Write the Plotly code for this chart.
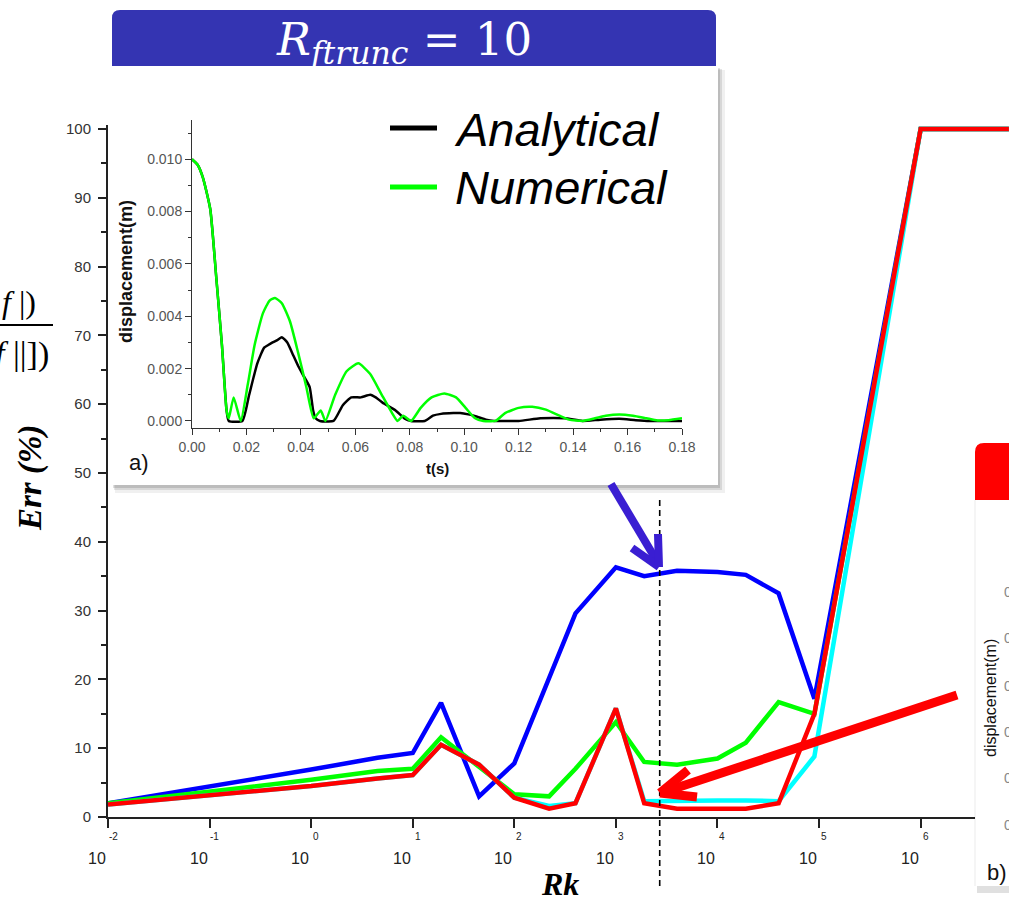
import plotly.graph_objects as go

# ---------------- data ----------------
# main chart: Err (%) versus Rk (log axis)
RK = [0.01, 0.1, 1, 4.5, 10, 19, 45, 100, 220, 400, 1000, 1900, 4000,
      10000, 19000, 40000, 90000, 1000000, 7400000]
ERR_BLUE = [2.0, 4.4, 6.9, 8.6, 9.3, 16.6, 3.0, 7.8, 20.4, 29.6, 36.3, 35.0, 35.8,
            35.6, 35.2, 32.5, 17.2, 100, 100]
ERR_GREEN = [2.0, 3.7, 5.4, 6.7, 7.0, 11.6, 7.3, 3.3, 3.0, 7.0, 13.8, 8.0, 7.6,
             8.5, 10.8, 16.7, 15.0, 100, 100]
ERR_CYAN = [1.8, 3.2, 4.5, 5.6, 6.1, 10.5, 7.6, 2.8, 1.6, 2.0, 15.8, 2.3, 2.4,
            2.4, 2.4, 2.3, 8.8, 100, 100]
ERR_RED = [1.8, 3.2, 4.5, 5.6, 6.1, 10.5, 7.6, 2.8, 1.2, 2.0, 15.8, 2.0, 1.2,
           1.2, 1.2, 2.0, 15.0, 100, 100]
X_TICK_EXP = ["-2", "-1", "0", "1", "2", "3", "4", "5", "6"]
Y_TICKS = [0, 10, 20, 30, 40, 50, 60, 70, 80, 90, 100]
RK_DASH = 2700

# inset a): displacement versus time
T_ANA = [0, 0.002, 0.004, 0.0067, 0.0089, 0.011, 0.0127, 0.0135, 0.0185, 0.021, 0.024,
         0.0265, 0.028, 0.0296, 0.0315, 0.033, 0.035, 0.0368, 0.039, 0.0411, 0.0432,
         0.0445, 0.0454, 0.047, 0.052, 0.0554, 0.0585, 0.062, 0.0655, 0.0675, 0.07,
         0.0748, 0.078, 0.0805, 0.0855, 0.0885, 0.0915, 0.096, 0.0985, 0.1015, 0.1045,
         0.108, 0.111, 0.12, 0.128, 0.137, 0.1435, 0.15, 0.157, 0.163, 0.168, 0.18]
U_ANA = [0.0100, 0.0098, 0.0093, 0.0081, 0.0055, 0.0029, 0.0004, 0.0, 0.0, 0.0010, 0.0022,
         0.0028, 0.0029, 0.0030, 0.0031, 0.0032, 0.0030, 0.0026, 0.0021, 0.0017, 0.0013,
         0.0004, 0.0001, 0.0, 0.0, 0.0006, 0.0009, 0.0009, 0.0010, 0.0009, 0.0007,
         0.0004, 0.0001, 0.0, 0.0, 0.0002, 0.00027, 0.0003, 0.0003, 0.00025, 0.00017,
         0.00005, 0.0, 0.0, 0.0001, 0.0001, 0.0, 0.00005, 0.00008, 0.00003, 0.0, 0.0]
T_NUM = [0, 0.002, 0.004, 0.0067, 0.0089, 0.011, 0.0127, 0.0135, 0.0153, 0.0179,
         0.0205, 0.023, 0.026, 0.0285, 0.0305, 0.033, 0.036, 0.039, 0.042, 0.0447,
         0.0473, 0.049, 0.0526, 0.0568, 0.0611, 0.0654, 0.0697, 0.0735, 0.0755, 0.0776,
         0.0805, 0.084, 0.088, 0.0927, 0.097, 0.1005, 0.104, 0.107, 0.1115, 0.115,
         0.12, 0.125, 0.13, 0.135, 0.1385, 0.1435, 0.148, 0.152, 0.157, 0.162, 0.167,
         0.171, 0.175, 0.18]
U_NUM = [0.0100, 0.0098, 0.0093, 0.0081, 0.0055, 0.0029, 0.0004, 0.0001, 0.0009, 0.0,
         0.0014, 0.0029, 0.0041, 0.0046, 0.0047, 0.0045, 0.0038, 0.0026, 0.0013, 0.0001,
         0.0004, 0.0, 0.0010, 0.0019, 0.0022, 0.0018, 0.0010, 0.0003, 0.0, 0.0002,
         0.0, 0.0005, 0.0009, 0.00105, 0.0009, 0.0005, 0.0001, 0.0, 0.0, 0.0003,
         0.0005, 0.00054, 0.00043, 0.0002, 0.00005, 0.0, 0.0001, 0.0002, 0.00025, 0.0002, 0.0001,
         0.00002, 0.00003, 0.0001]

# ---------------- geometry helpers ----------------
W, H = 1009, 907
ML, MR, MT, MB = 108, 0, 100, 90
PW, PH = W - ML - MR, H - MT - MB


def px(x):
    return (x - ML) / PW


def py(y):
    return (H - MB - y) / PH


SANS = "Liberation Sans, Arial, sans-serif"
SERIF = "Liberation Serif, Times New Roman, serif"
MATH = "DejaVu Serif, serif"

fig = go.Figure()
for ys, col in [(ERR_BLUE, "#0000FF"), (ERR_GREEN, "#00FF00"),
                (ERR_CYAN, "#00FFFF"), (ERR_RED, "#FF0000")]:
    fig.add_trace(go.Scatter(x=RK, y=ys, mode="lines", showlegend=False,
                             line=dict(color=col, width=4.5), xaxis="x", yaxis="y"))
fig.add_trace(go.Scatter(x=T_ANA, y=U_ANA, mode="lines", name="Analytical", showlegend=False,
                         line=dict(color="#000000", width=2.5, shape="spline", smoothing=0.5),
                         xaxis="x2", yaxis="y2"))
fig.add_trace(go.Scatter(x=T_NUM, y=U_NUM, mode="lines", name="Numerical", showlegend=False,
                         line=dict(color="#00FF00", width=2.5, shape="spline", smoothing=0.5),
                         xaxis="x2", yaxis="y2"))

shapes = []


def rect(x0, y0, x1, y1, fill, layer="below"):
    shapes.append(dict(type="rect", xref="paper", yref="paper",
                       x0=px(x0), x1=px(x1), y0=py(y1), y1=py(y0),
                       fillcolor=fill, line=dict(width=0), layer=layer))


def seg(x0, y0, x1, y1, color, width, layer="above"):
    shapes.append(dict(type="line", xref="paper", yref="paper",
                       x0=px(x0), y0=py(y0), x1=px(x1), y1=py(y1),
                       line=dict(color=color, width=width), layer=layer))


def rounded_top(x0, y0, x1, y1, r, fill, left=True, right=True):
    p = f"M {px(x0)},{py(y1)} "
    if left:
        p += f"L {px(x0)},{py(y0 + r)} Q {px(x0)},{py(y0)} {px(x0 + r)},{py(y0)} "
    else:
        p += f"L {px(x0)},{py(y0)} "
    if right:
        p += f"L {px(x1 - r)},{py(y0)} Q {px(x1)},{py(y0)} {px(x1)},{py(y0 + r)} "
    else:
        p += f"L {px(x1)},{py(y0)} "
    p += f"L {px(x1)},{py(y1)} Z"
    shapes.append(dict(type="path", xref="paper", yref="paper", path=p,
                       fillcolor=fill, line=dict(width=0), layer="above"))


# inset a) panel with soft shadow and header
rect(115, 70, 725, 493, "rgba(0,0,0,0.06)")
rect(114, 69, 722, 490, "rgba(0,0,0,0.10)")
rect(113, 68, 720, 488, "rgba(0,0,0,0.12)")
rect(112, 66, 718, 485, "#FFFFFF")
rounded_top(112, 10, 716, 66, 8, "#3434B2")
# legend marks of inset
seg(390, 128, 437, 128, "#000000", 5)
seg(390, 187, 437, 187, "#00FF00", 5)
# dashed vertical line
shapes.append(dict(type="line", xref="x", yref="paper", x0=RK_DASH, x1=RK_DASH,
                   y0=py(500), y1=py(890), line=dict(color="#000000", width=1.6, dash="6px,4px"),
                   layer="above"))
# arrows
BLUE_A = "#3A1ED2"
seg(611, 484, 658, 563, BLUE_A, 8)
seg(659, 567, 632, 548, BLUE_A, 8)
seg(659, 567, 658, 534, BLUE_A, 8)
seg(957, 695, 664, 792, "#FF0000", 9)
seg(660, 793, 688, 770, "#FF0000", 9)
seg(660, 793, 697, 797, "#FF0000", 9)
# panel b) at right edge
rect(977, 884, 1012, 893, "rgba(0,0,0,0.12)", layer="above")
rect(975, 500, 1012, 886, "#FFFFFF", layer="above")
seg(975, 500, 975, 886, "rgba(0,0,0,0.08)", 1)
rounded_top(975, 443, 1012, 500, 9, "#FF0000", right=False)
# fraction bar at left
seg(0, 325, 53, 325, "#000000", 2)

ann = []


def text(x, y, s, size, family=SANS, color="#000000", xanchor="center", yanchor="middle",
         angle=0, xref="paper", xshift=0):
    ann.append(dict(x=(x if xref != "paper" else px(x)), y=py(y), xref=xref, yref="paper",
                    text=s, showarrow=False, xanchor=xanchor, yanchor=yanchor,
                    textangle=angle, xshift=xshift,
                    font=dict(size=size, family=family, color=color)))


text(404, 42, "<i>R</i><sub><i>ftrunc</i></sub> = 10", 45, MATH, "#FFFFFF")
text(452, 129, "<i>Analytical</i>", 47, xanchor="left")
text(453, 187, "<i>Numerical</i>", 47, xanchor="left")
text(126, 272, "<b>displacement(m)</b>", 18, angle=-90, color="#111111")
text(437, 468, "<b>t(s)</b>", 15, color="#111111")
text(127, 462, "a)", 22, xanchor="left", color="#111111")
text(31, 478, "<b><i>Err (%)</i></b>", 33, SERIF, angle=-90)
text(560, 884, "<b><i>Rk</i></b>", 32, SERIF)
text(38, 302, "<i>f</i> |)", 32, SERIF, xanchor="right")
text(51, 354, "<i>f</i> ||])", 34, SERIF, xanchor="right")
for e in X_TICK_EXP:
    xv = float(e)
    text(xv, 858, "10", 16, SANS, "#222222", xref="x", xshift=-11)
    text(xv, 836, e, 10, SANS, "#222222", xref="x", xshift=5)
text(990, 698, "displacement(m)", 16, SANS, "#111111", angle=-90)
for yy in [592, 638, 686, 732, 778, 825]:
    text(1002, yy, "0.0", 14, SANS, "#888888", xanchor="left")
text(985, 872, "b)", 22, SANS, "#111111", xanchor="left")

fig.update_layout(
    width=W, height=H, autosize=False,
    margin=dict(l=ML, r=MR, t=MT, b=MB, pad=0, autoexpand=False),
    paper_bgcolor="#FFFFFF", plot_bgcolor="rgba(0,0,0,0)",
    showlegend=False,
    xaxis=dict(type="log", range=[-2, 6.87], domain=[0, 1], anchor="y",
               showline=True, linecolor="#222222", linewidth=2,
               ticks="outside", ticklen=9, tickwidth=2, tickcolor="#222222",
               tickvals=[10.0 ** float(e) for e in X_TICK_EXP], showticklabels=False,
               showgrid=False, zeroline=False),
    yaxis=dict(range=[0, 100.6], domain=[0, py(124.9)], anchor="x",
               showline=True, linecolor="#222222", linewidth=2,
               ticks="outside", ticklen=8, tickwidth=1.5, tickcolor="#222222",
               tickvals=Y_TICKS, ticktext=[str(v) for v in Y_TICKS],
               minor=dict(ticks="outside", ticklen=5, tickwidth=1.5, tickcolor="#222222",
                          tickvals=[5, 15, 25, 35, 45, 55, 65, 75, 85, 95]),
               tickfont=dict(family=SANS, size=15, color="#333333"),
               ticklabelstandoff=4, showgrid=False, zeroline=False),
    xaxis2=dict(range=[0, 0.18], domain=[px(192), px(682)], anchor="y2",
                showline=True, linecolor="#333333", linewidth=1,
                ticks="outside", ticklen=6, tickcolor="#333333",
                tick0=0, dtick=0.02, tickformat=".2f",
                minor=dict(ticks="outside", ticklen=3, dtick=0.01, tickcolor="#333333"),
                tickfont=dict(family=SANS, size=14, color="#555555"),
                showgrid=False, zeroline=False),
    yaxis2=dict(range=[-0.00027, 0.0115], domain=[py(428), py(120)], anchor="x2",
                showline=True, linecolor="#333333", linewidth=1,
                ticks="outside", ticklen=6, tickcolor="#333333",
                tick0=0, dtick=0.002, tickformat=".3f",
                minor=dict(ticks="outside", ticklen=3, dtick=0.001, tickcolor="#333333"),
                tickfont=dict(family=SANS, size=14, color="#555555"),
                showgrid=False, zeroline=False),
    shapes=shapes,
    annotations=ann,
)

POST = ("document.documentElement.style.overflow='hidden';"
        "document.body.style.margin='0';document.body.style.overflow='hidden';")

fig.write_html("out.html", config={"responsive": False, "displayModeBar": False},
               post_script=POST)
